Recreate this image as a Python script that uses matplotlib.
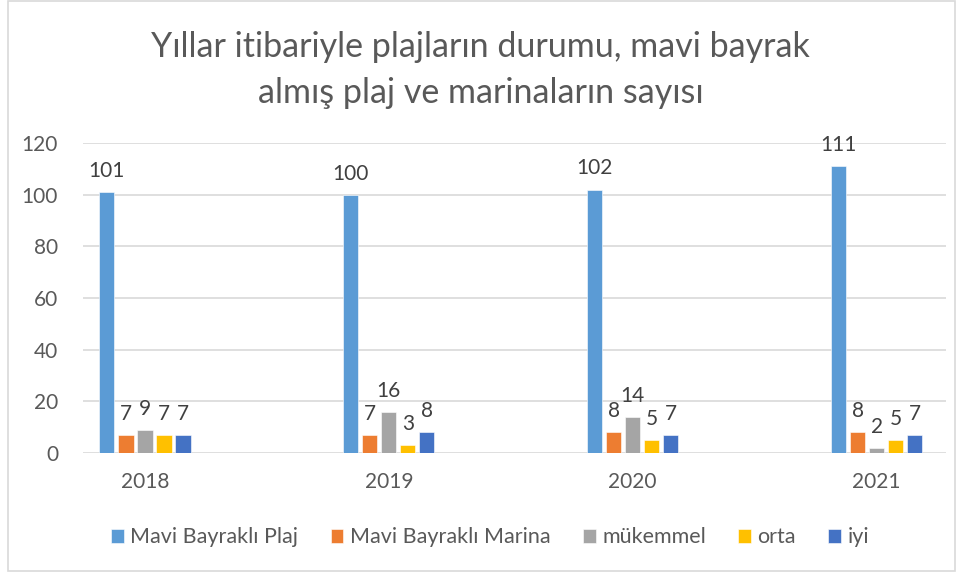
import numpy as np
import matplotlib.pyplot as plt
from matplotlib.patches import Rectangle

years = ['2018', '2019', '2020', '2021']
series_names = ['Mavi Bayraklı Plaj', 'Mavi Bayraklı Marina', 'mükemmel', 'orta', 'iyi']
plaj = [101, 100, 102, 111]
marina = [7, 7, 8, 8]
mukemmel = [9, 16, 14, 2]
orta = [7, 3, 5, 5]
iyi = [7, 8, 7, 7]
colors = ['#5B9BD5', '#ED7D31', '#A5A5A5', '#FFC000', '#4472C4']

plt.rcParams['font.family'] = ['Lato', 'DejaVu Sans']

fig = plt.figure(figsize=(9.61, 5.79), dpi=100, facecolor='white')
ax = fig.add_axes([0.0864, 0.2176, 0.8976, 0.5354])

x = np.arange(len(years))
step = 0.078
width = 0.062
all_series = [plaj, marina, mukemmel, orta, iyi]
for i, (vals, name, c) in enumerate(zip(all_series, series_names, colors)):
    pos = x + (i - 2) * step
    bars = ax.bar(pos, vals, width, color=c, label=name, edgecolor='white', linewidth=0.4, zorder=3)
    for b, v in zip(bars, vals):
        ax.annotate(str(v), (b.get_x() + b.get_width() / 2, v), xytext=(0, 8),
                    textcoords='offset points', ha='center', va='bottom',
                    fontsize=15, color='#404040')

ax.set_xlim(-0.254, 3.283)
ax.set_ylim(0, 120)
ax.set_yticks(range(0, 121, 20))
ax.set_xticks(x)
ax.set_xticklabels(years)
ax.tick_params(length=0, labelsize=15, colors='#595959', pad=14)
ax.tick_params(axis='y', pad=18)
ax.grid(axis='y', color='#D9D9D9', linewidth=1.2, zorder=0)
for s in ax.spines.values():
    s.set_visible(False)

fig.text(0.5, 0.918, 'Yıllar itibariyle plajların durumu, mavi bayrak', ha='center', va='center',
         fontsize=24.5, color='#595959')
fig.text(0.5, 0.84, 'almış plaj ve marinaların sayısı', ha='center', va='center',
         fontsize=24.5, color='#595959')

leg = fig.legend(loc='center', bbox_to_anchor=(0.51, 0.072), ncol=5, frameon=False,
                 fontsize=15.5, handlelength=0.6, handleheight=0.6, handletextpad=0.3,
                 columnspacing=1.5)
for t in leg.get_texts():
    t.set_color('#595959')

fig.patches.append(Rectangle((0.008, 0.014), 0.986, 0.984, transform=fig.transFigure,
                             fill=False, edgecolor='#D9D9D9', linewidth=1.2))

fig.savefig('out.png', dpi=100, facecolor='white')
